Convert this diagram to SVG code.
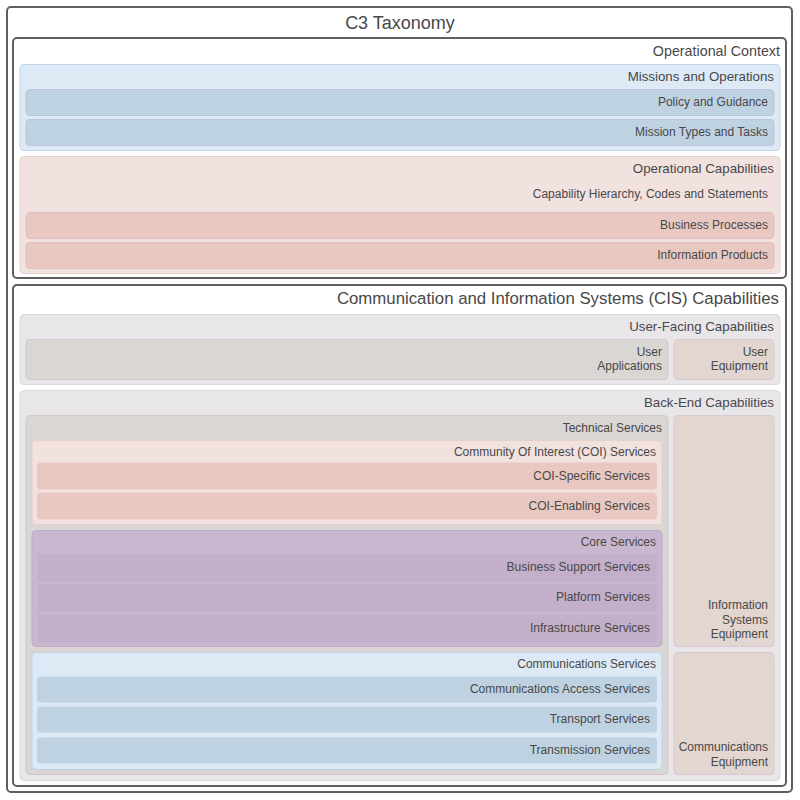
<svg xmlns="http://www.w3.org/2000/svg" width="800" height="800" viewBox="0 0 800 800">
<style>
text{font-family:"Liberation Sans",Arial,sans-serif;fill:#484848;text-anchor:end}
.t18{font-size:18px}.t16{font-size:16.8px}.t14{font-size:14.3px}.t13{font-size:13.3px}.t12{font-size:12px}
.frame{fill:#fff;stroke:#5f5f5f;stroke-width:2}
.blueL{fill:#dde9f4;stroke:#bcd5e8;stroke-width:1}
.blueD{fill:#bfd2e2;stroke:#b9c4d9;stroke-width:1}
.pinkL{fill:#f1e1df;stroke:#e6d0cc;stroke-width:1}
.pinkD{fill:#e9c8c2;stroke:#dcc0c4;stroke-width:1}
.grayL{fill:#e9e6ea;stroke:#dcd8d8;stroke-width:1}
.grayD{fill:#d9d6d3;stroke:#cfc8cc;stroke-width:1}
.tan{fill:#e3d5d0;stroke:#d6cad0;stroke-width:1}
.purL{fill:#c9b6cf;stroke:#bfaccc;stroke-width:1}
.purD{fill:#c4afca;stroke:#cdbcd2;stroke-width:1;stroke-dasharray:1 1}
</style>
<rect width="800" height="800" fill="#fff"/>
<g id="root"><rect class="frame" x="7" y="7" width="785" height="785" rx="4"/><text class="t18" x="400" y="29" style="text-anchor:middle">C3 Taxonomy</text></g>
<g id="operational-context"><rect class="frame" x="13" y="38" width="773" height="240" rx="4"/><text class="t14" x="780" y="56">Operational Context</text></g>
<g id="missions"><rect class="blueL" x="20" y="64.5" width="760" height="86" rx="4"/><text class="t13" x="774" y="81">Missions and Operations</text></g>
<g id="policy"><rect class="blueD" x="26" y="89.5" width="748" height="26" rx="4"/><text class="t12" x="768" y="106">Policy and Guidance</text></g>
<g id="mission-types"><rect class="blueD" x="26" y="119.5" width="748" height="26" rx="4"/><text class="t12" x="768" y="136">Mission Types and Tasks</text></g>
<g id="op-capabilities"><rect class="pinkL" x="20" y="156.5" width="760" height="117" rx="4"/><text class="t13" x="774" y="173">Operational Capabilities</text><text class="t12" x="768" y="198">Capability Hierarchy, Codes and Statements</text></g>
<g id="business-processes"><rect class="pinkD" x="26" y="212.5" width="748" height="26" rx="4"/><text class="t12" x="768" y="229">Business Processes</text></g>
<g id="information-products"><rect class="pinkD" x="26" y="242.5" width="748" height="26" rx="4"/><text class="t12" x="768" y="259">Information Products</text></g>
<g id="cis"><rect class="frame" x="13" y="285" width="773" height="501" rx="4"/><text class="t16" x="779" y="304">Communication and Information Systems (CIS) Capabilities</text></g>
<g id="user-facing"><rect class="grayL" x="20" y="314.5" width="760" height="70" rx="4"/><text class="t13" x="774" y="331">User-Facing Capabilities</text></g>
<g id="user-applications"><rect class="grayD" x="26" y="339.5" width="642" height="40" rx="4"/><text class="t12" x="662" y="356">User</text><text class="t12" x="662" y="370">Applications</text></g>
<g id="user-equipment"><rect class="tan" x="674" y="339.5" width="100" height="40" rx="4"/><text class="t12" x="768" y="356">User</text><text class="t12" x="768" y="370">Equipment</text></g>
<g id="back-end"><rect class="grayL" x="20" y="390.5" width="760" height="390" rx="4"/><text class="t13" x="774" y="407">Back-End Capabilities</text></g>
<g id="technical-services"><rect class="grayD" x="26" y="415.5" width="642" height="359" rx="4"/><text class="t12" x="662" y="432">Technical Services</text></g>
<g id="coi-services"><rect class="pinkL" x="32" y="440.5" width="630" height="84" rx="4"/><text class="t12" x="656" y="456">Community Of Interest (COI) Services</text></g>
<g id="coi-specific"><rect class="pinkD" x="37" y="462.5" width="620" height="27" rx="4" style="stroke:none"/><text class="t12" x="650" y="480">COI-Specific Services</text></g>
<g id="coi-enabling"><rect class="pinkD" x="37" y="492.5" width="620" height="27" rx="4" style="stroke:none"/><text class="t12" x="650" y="510">COI-Enabling Services</text></g>
<g id="core-services"><rect class="purL" x="32" y="530.5" width="630" height="116" rx="4"/><text class="t12" x="656" y="546">Core Services</text></g>
<g id="business-support"><rect class="purD" x="37" y="553.5" width="620" height="29" rx="3"/><text class="t12" x="650" y="571">Business Support Services</text></g>
<g id="platform"><rect class="purD" x="37" y="583.5" width="620" height="29" rx="3"/><text class="t12" x="650" y="601">Platform Services</text></g>
<g id="infrastructure"><rect class="purD" x="37" y="613.5" width="620" height="29" rx="3"/><text class="t12" x="650" y="632">Infrastructure Services</text></g>
<g id="communications-services"><rect class="blueL" x="32" y="652.5" width="630" height="117" rx="4"/><text class="t12" x="656" y="668">Communications Services</text></g>
<g id="comm-access"><rect class="blueD" x="37" y="676.5" width="620" height="26" rx="4" style="stroke:none"/><text class="t12" x="650" y="693">Communications Access Services</text></g>
<g id="transport"><rect class="blueD" x="37" y="706.5" width="620" height="26" rx="4" style="stroke:none"/><text class="t12" x="650" y="723">Transport Services</text></g>
<g id="transmission"><rect class="blueD" x="37" y="737.5" width="620" height="26" rx="4" style="stroke:none"/><text class="t12" x="650" y="754">Transmission Services</text></g>
<g id="is-equipment"><rect class="tan" x="674" y="415.5" width="100" height="231" rx="4"/><text class="t12" x="768" y="609">Information</text><text class="t12" x="768" y="624">Systems</text><text class="t12" x="768" y="638">Equipment</text></g>
<g id="comm-equipment"><rect class="tan" x="674" y="652.5" width="100" height="122" rx="4"/><text class="t12" x="768" y="751">Communications</text><text class="t12" x="768" y="766">Equipment</text></g>
<g id="connectors"></g>
</svg>
